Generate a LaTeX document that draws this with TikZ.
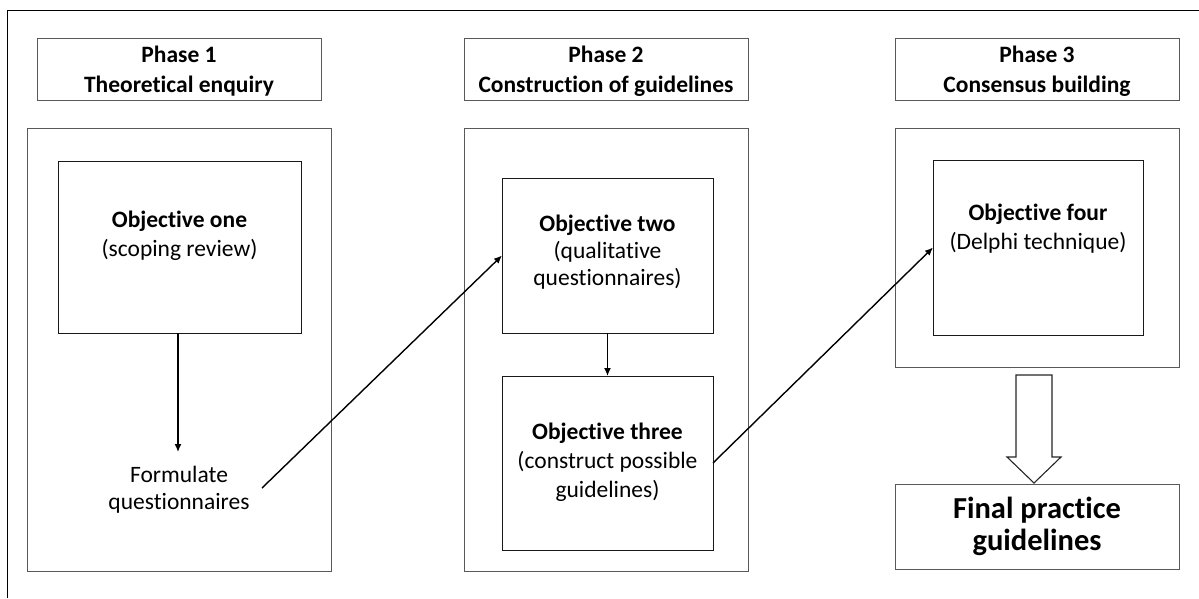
\documentclass[tikz,border=0pt]{standalone}
\usepackage{fontspec}
\setmainfont{Carlito}[Ligatures=NoCommon]
\usetikzlibrary{arrows.meta,calc}

\tikzset{
  phasebox/.style={draw=black!65, line width=0.9pt, minimum width=284pt, minimum height=62pt, inner sep=0pt, outer sep=0pt},
  framebox/.style={draw=black!65, line width=0.9pt, inner sep=0pt, outer sep=0pt},
  objbox/.style={draw=black!90, line width=0.9pt, inner sep=0pt, outer sep=0pt},
  txt/.style={align=center, inner sep=0pt, font=\fontsize{23.5}{29}\selectfont},
  headtxt/.style={align=center, inner sep=0pt, font=\fontsize{23.5}{29.5}\selectfont\bfseries},
  bigtxt/.style={align=center, inner sep=0pt, font=\fontsize{30.5}{32}\selectfont\bfseries},
  link/.style={line width=1.4pt, -{Latex[length=8pt,width=7pt]}},
  hollow/.style={draw=black!85, line width=1.1pt, fill=white, line join=miter}
}

\begin{document}
\begin{tikzpicture}[x=1pt, y=-1pt]
\useasboundingbox (0,0) rectangle (1199,598);

% open outer frame
\draw[line width=1pt] (7,598) -- (7,10) -- (1199,10);

% phase headers
\node[phasebox] (ph1) at (179,69) {};
\node[phasebox] (ph2) at (606,69) {};
\node[phasebox] (ph3) at (1037,69) {};
\node[headtxt] (ph1t) at (179,71) {Phase 1\\Theoretical enquiry};
\node[headtxt] (ph2t) at (606,71) {Phase 2\\Construction of guidelines};
\node[headtxt] (ph3t) at (1037,71) {Phase 3\\Consensus building};

% phase frames
\node[framebox, minimum width=304pt, minimum height=443pt] (out1) at (179,349.5) {};
\node[framebox, minimum width=284pt, minimum height=443pt] (out2) at (606,349.5) {};
\node[framebox, minimum width=284pt, minimum height=239pt] (out3) at (1037,247.5) {};

% objectives
\node[objbox, minimum width=243pt, minimum height=172pt] (o1) at (179.5,247) {};
\node[objbox, minimum width=211pt, minimum height=155pt] (o2) at (607.5,255.5) {};
\node[objbox, minimum width=211pt, minimum height=174pt] (o3) at (607.5,463) {};
\node[objbox, minimum width=210pt, minimum height=175pt] (o4) at (1038,247.5) {};

\node[txt] (o1t) at (179.5,236) {\textbf{Objective one}\\(scoping review)};
\node[txt, font=\fontsize{23.5}{27}\selectfont] (o2t) at (607.5,252) {\textbf{Objective two}\\(qualitative\\questionnaires)};
\node[txt] (o3t) at (607.5,462) {\textbf{Objective three}\\(construct possible\\guidelines)};
\node[txt] (o4t) at (1038,229) {\textbf{Objective four}\\(Delphi technique)};

\node[txt, font=\fontsize{23.5}{26.5}\selectfont] (fq) at (179,489.5) {Formulate\\questionnaires};

% final outcome
\node[framebox, minimum width=284pt, minimum height=85pt] (fin) at (1037,526.5) {};
\node[bigtxt] (fint) at (1037,526) {Final practice\\guidelines};

% connectors
\coordinate (fqtop) at (178,452);
\coordinate (fqend) at (262,488);
\draw[link] (o1.south -| fqtop) -- (fqtop);
\draw[link] (fqend) -- (o2.west);
\draw[link] (o2.south) -- (o3.north);
\draw[link] (o3.east) -- (o4.west);

% block arrow into the final box
\draw[hollow] ($(fin.north)+(-3,-1)$) -- ++(-27,-26) -- ++(9,0) -- ++(0,-82)
  -- ++(36,0) -- ++(0,82) -- ++(9,0) -- cycle;
\end{tikzpicture}
\end{document}
